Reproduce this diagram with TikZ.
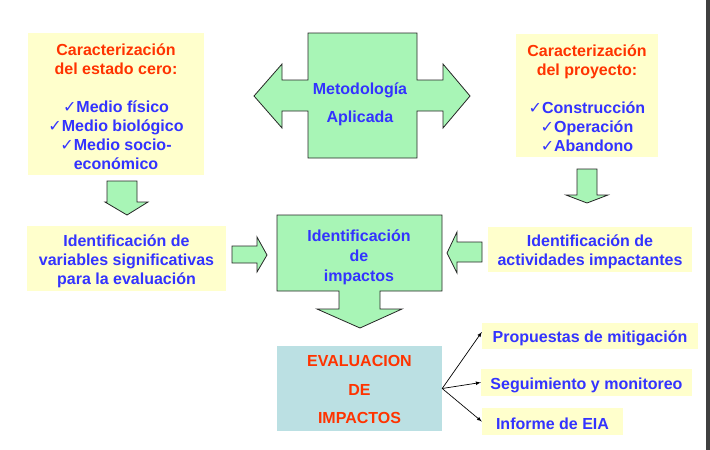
\documentclass[tikz,border=0pt]{standalone}
\usepackage{fontspec}
\setmainfont{Liberation Sans}
\newfontfamily\checkfont{DejaVu Sans}
\usetikzlibrary{positioning,calc}
\definecolor{lightyellow}{RGB}{255,255,204}
\definecolor{lightgreen}{RGB}{168,245,182}
\definecolor{lightteal}{RGB}{187,224,227}
\definecolor{titlered}{RGB}{255,51,0}
\definecolor{textblue}{RGB}{51,51,255}
\newcommand{\chk}{{\fontsize{16}{16}\checkfont\mdseries ✓}}

\begin{document}
\begin{tikzpicture}[
    x=1pt, y=-1pt,
    box/.style={rectangle, inner sep=0pt, align=center, yshift=-2.5pt, font=\bfseries\fontsize{16}{19}\selectfont},
    panel/.style={rectangle, inner sep=0pt, fill=lightyellow},
    note/.style={box, text=textblue},
    blockarrow/.style={fill=lightgreen, draw=black!85, line width=0.8pt, line join=miter},
    link/.style={-latex, line width=0.7pt}
]
    \useasboundingbox (0,0) rectangle (710,450);
    \fill[black!75] (706,0) rectangle (710,450);

    % Characterisation
    \node[panel, minimum width=176pt, minimum height=142pt] (estado) at (116,104) {};
    \node[note] (estadotxt) at (estado)
        {\textcolor{titlered}{Caracterización}\\\textcolor{titlered}{del estado cero:}\\[19pt]
         \chk Medio físico\\\chk Medio biológico\\\chk Medio socio-\\económico};
    \node[panel, minimum width=142pt, minimum height=123pt] (proyecto) at (587,95.5) {};
    \node[note] (proyectotxt) at (proyecto)
        {\textcolor{titlered}{Caracterización}\\\textcolor{titlered}{del proyecto:}\\[19pt]
         \chk Construcción\\\chk Operación\\\chk Abandono};

    % Method
    \draw[blockarrow] (254,96) -- (282,64) -- (282,80) -- (308,80) -- (308,33) -- (417,33)
        -- (417,80) -- (443,80) -- (443,64) -- (470,96) -- (443,128) -- (443,111)
        -- (417,111) -- (417,158) -- (308,158) -- (308,111) -- (282,111) -- (282,128) -- cycle;
    \node[note] (metodo) at (360,102) {Metodología\\[9pt]Aplicada};

    % Identification
    \draw[blockarrow] (107,181) -- (137,181) -- (137,202) -- (148,202) -- (127,215) -- (105,202) -- (107,202) -- cycle;
    \draw[blockarrow] (577,169) -- (597,169) -- (597,195) -- (608,195) -- (587,203) -- (566,195) -- (577,195) -- cycle;
    \node[panel, minimum width=199pt, minimum height=65pt] (variables) at (126.5,258.5) {};
    \node[note] (variablestxt) at (variables)
        {Identificación de\\variables significativas\\para la evaluación};
    \node[panel, minimum width=204pt, minimum height=45pt] (actividades) at (590,249.5) {};
    \node[note] (actividadestxt) at (actividades)
        {Identificación de\\actividades impactantes};
    \draw[blockarrow] (232,246) -- (257,246) -- (257,237) -- (267,255) -- (257,272) -- (257,263) -- (232,263) -- cycle;
    \draw[blockarrow] (482,242) -- (457,242) -- (457,232) -- (447,253) -- (457,273) -- (457,262) -- (482,262) -- cycle;
    \draw[blockarrow] (277,215) -- (442,215) -- (442,291) -- (380,291) -- (380,309) -- (402,309)
        -- (360,328) -- (317,309) -- (339,309) -- (339,291) -- (277,291) -- cycle;
    \node[note, font=\bfseries\fontsize{16}{20}\selectfont] (impactos) at (359,255)
        {Identificación\\de\\impactos};

    % Evaluation
    \node[panel, fill=lightteal, minimum width=165pt, minimum height=85pt] (evaluacion) at (359.5,388.5) {};
    \node[box, text=titlered, yshift=1.5pt] (evaluaciontxt) at (evaluacion)
        {EVALUACION\\[9.5pt]DE\\[9.5pt]IMPACTOS};
    \node[panel, minimum width=216pt, minimum height=26pt] (mitigacion) at (590,336) {};
    \node[note] at (mitigacion) {Propuestas de mitigación};
    \node[panel, minimum width=211pt, minimum height=27pt] (seguimiento) at (586.5,382.5) {};
    \node[note] at (seguimiento) {Seguimiento y monitoreo};
    \node[panel, minimum width=141pt, minimum height=27pt] (informe) at (552.5,421.5) {};
    \node[note] at (informe) {Informe de EIA};

    % Edges
    \draw[link] (evaluacion.east) -- ([yshift=4pt]mitigacion.west);
    \draw[link] (evaluacion.east) -- (seguimiento.west);
    \draw[link] (evaluacion.east) -- (informe.west);
\end{tikzpicture}
\end{document}
